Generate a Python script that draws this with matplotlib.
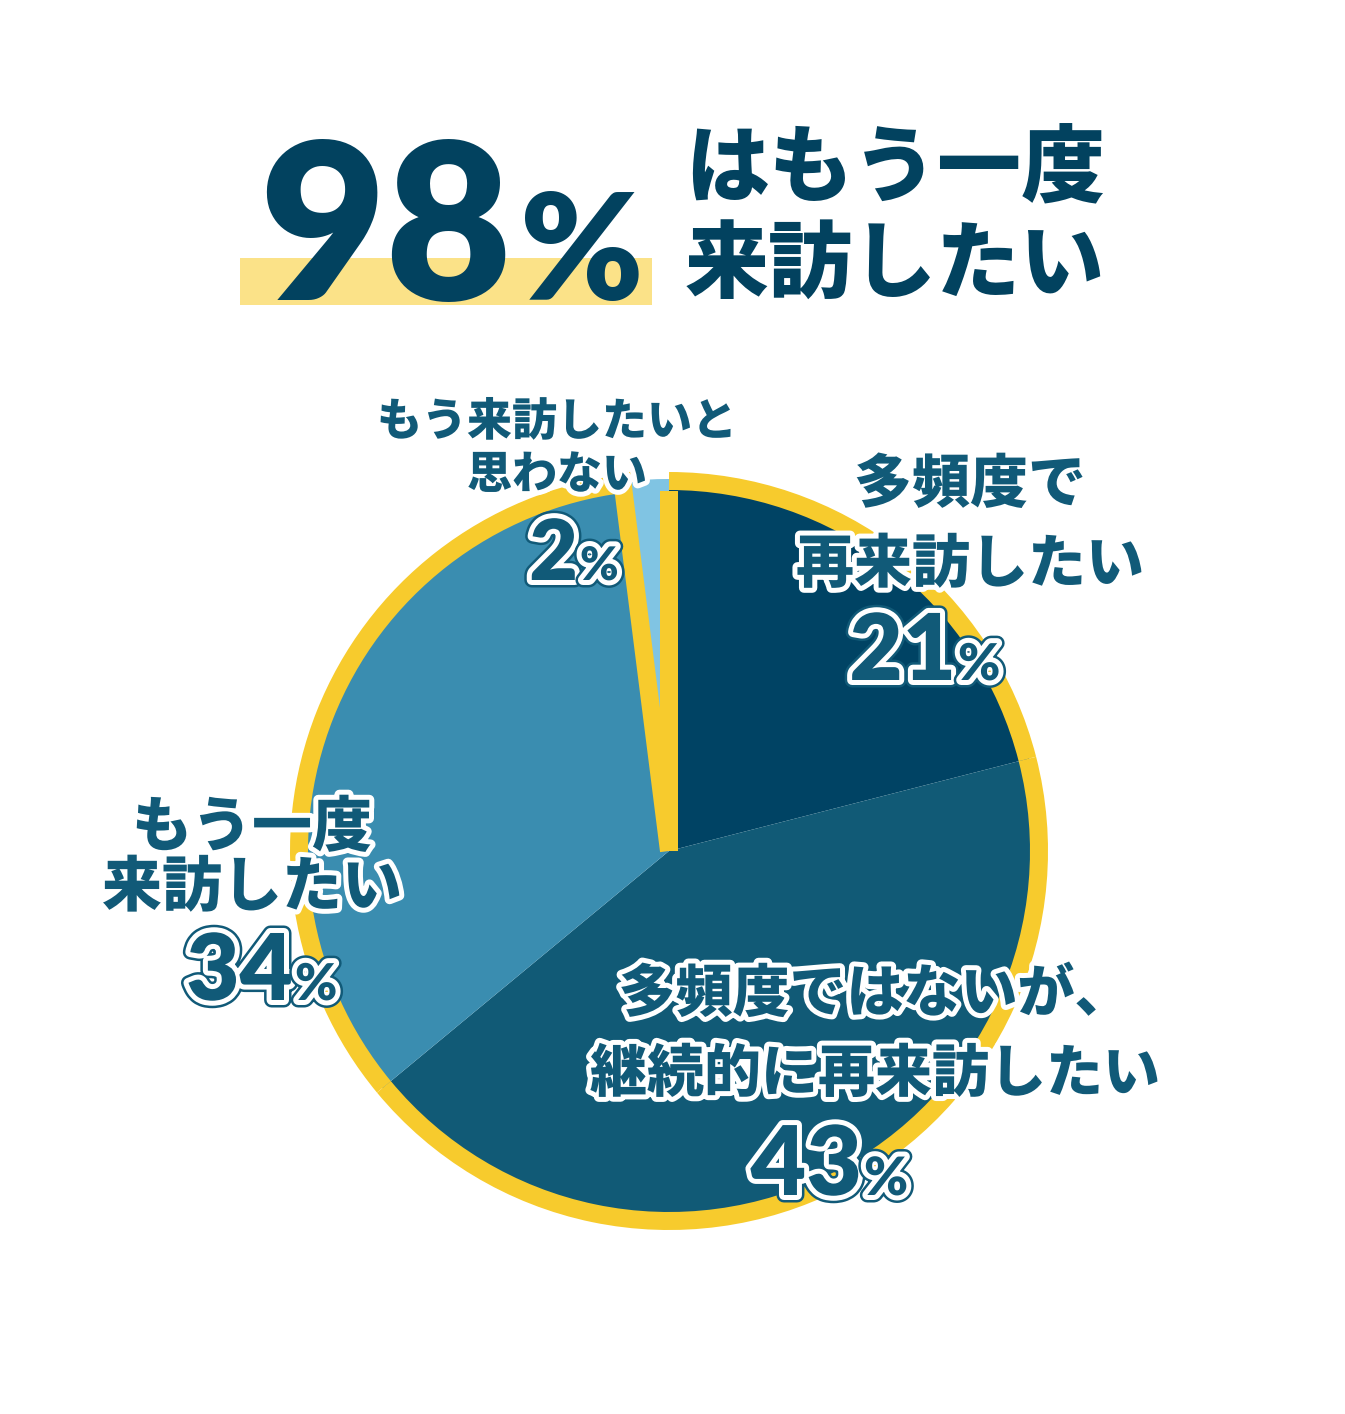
import matplotlib
matplotlib.use("Agg")
import matplotlib.pyplot as plt
import matplotlib.patheffects as pe
from matplotlib.patches import Arc, Rectangle
import numpy as np

# canvas in pixels
W, H = 1345, 1414
DPI = 100
PT = 72 / DPI  # points per pixel

# data
shares = [21, 43, 34, 2]
slice_colors = ["#004364", "#115a76", "#3a8db0", "#80c4e3"]
label_lines = [
    ["多頻度で", "再来訪したい"],
    ["多頻度ではないが、", "継続的に再来訪したい"],
    ["もう一度", "来訪したい"],
    ["もう来訪したいと", "思わない"],
]
headline_value = "98"
headline_text = ["はもう一度", "来訪したい"]

# colours
navy = "#02425f"
label_blue = "#115a78"
yellow = "#f7cb2d"
highlight = "#fbe288"

cjk = ["Noto Sans CJK JP", "DejaVu Sans"]
digits = ["Lato", "DejaVu Sans"]

# layout per label: text centre x, first line y, line gap, font px,
# number split x, number baseline y, number font px
label_layout = [
    (970, 485, 80, 58, 956, 680, 92),
    (875, 995, 80, 57, 862, 1195, 96),
    (252, 828, 60, 60, 293, 1000, 92),
    (557, 422, 53, 45, 578, 580, 84),
]

fig = plt.figure(figsize=(W / DPI, H / DPI), dpi=DPI)
ax = fig.add_axes([0, 0, 1, 1])

center = (669, H - 851)
radius = 372
wedges, _ = ax.pie(
    shares,
    colors=slice_colors,
    startangle=90,
    counterclock=False,
    center=center,
    radius=radius,
    wedgeprops=dict(linewidth=0),
)

ax.set_xlim(0, W)
ax.set_ylim(0, H)
ax.set_aspect("equal")
ax.axis("off")

# yellow rim around the three larger slices
ring = 370
for w in wedges[:3]:
    ax.add_patch(Arc(center, 2 * ring, 2 * ring, theta1=w.theta1, theta2=w.theta2,
                     color=yellow, lw=18 * PT, zorder=3))

# yellow edges of the small slice
for ang, r in [(wedges[3].theta2, 381), (wedges[3].theta1, 360)]:
    a = np.deg2rad(ang)
    ax.plot([center[0], center[0] + r * np.cos(a)],
            [center[1], center[1] + r * np.sin(a)],
            color=yellow, lw=18 * PT, solid_capstyle="butt", zorder=3)

# headline
ax.add_patch(Rectangle((240, H - 305), 412, 47, color=highlight, lw=0, zorder=1))
ax.text(512, H - 300, headline_value, ha="right", va="baseline", fontsize=218 * PT,
        color=navy, family=digits, weight="heavy", zorder=2)
ax.text(520, H - 300, "%", ha="left", va="baseline", fontsize=148 * PT,
        color=navy, family=digits, weight="heavy", zorder=2)
for i, line in enumerate(headline_text):
    ax.text(895, H - (170 + i * 96), line, ha="center", va="center",
            fontsize=84 * PT, color=navy, family=cjk, weight=900, zorder=2)

# labels
outline = [pe.withStroke(linewidth=10 * PT, foreground="white")]
num_outline = [
    pe.Stroke(linewidth=15 * PT, foreground=label_blue),
    pe.Stroke(linewidth=10 * PT, foreground="white"),
    pe.Normal(),
]
for lines, share, lay in zip(label_lines, shares, label_layout):
    cx, y1, gap, fs, nx, ny, nfs = lay
    for i, line in enumerate(lines):
        ax.text(cx, H - (y1 + i * gap), line, ha="center", va="center",
                fontsize=fs * PT, color=label_blue, family=cjk, weight=900,
                path_effects=outline, zorder=5)
    ax.text(nx, H - ny, str(share), ha="right", va="baseline", fontsize=nfs * PT,
            color=label_blue, family=digits, weight="heavy",
            path_effects=num_outline, zorder=5)
    ax.text(nx + 2, H - ny, "%", ha="left", va="baseline", fontsize=nfs * 0.55 * PT,
            color=label_blue, family=digits, weight="heavy",
            path_effects=num_outline, zorder=5)

fig.savefig("out.png", dpi=DPI, facecolor="white")
